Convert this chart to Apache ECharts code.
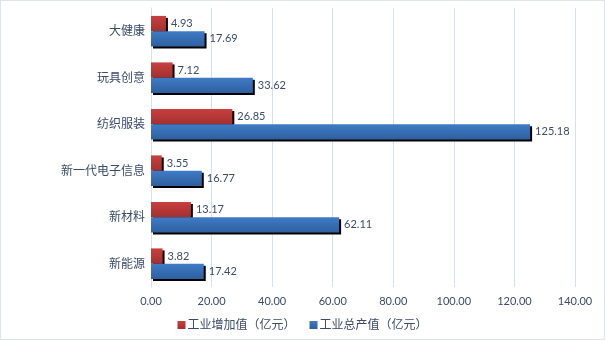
<!DOCTYPE html>
<html>
<head>
<meta charset="utf-8">
<script src="https://cdn.jsdelivr.net/npm/echarts@6/dist/echarts.min.js"></script>
<style>
  html, body { margin: 0; padding: 0; background: #fff; }
  #chart { width: 603px; height: 338px; border: 1px solid #dbe4ef; }
</style>
</head>
<body>
<div id="chart"></div>
<script>
// Industry categories, listed top to bottom
const categories = ['大健康', '玩具创意', '纺织服装', '新一代电子信息', '新材料', '新能源'];
// Industrial added value (100 million yuan)
const addedValue = [4.93, 7.12, 26.85, 3.55, 13.17, 3.82];
// Gross industrial output (100 million yuan)
const grossOutput = [17.69, 33.62, 125.18, 16.77, 62.11, 17.42];
const seriesNames = ['工业增加值（亿元）', '工业总产值（亿元）'];
const xTicks = { min: 0, max: 140, interval: 20 };

const textColor = '#3b4a6b';
const fontFamily = 'Lato, "Noto Sans CJK SC", sans-serif';

function grad(top, bottom) {
  return new echarts.graphic.LinearGradient(0, 0, 0, 1, [
    { offset: 0, color: top },
    { offset: 1, color: bottom }
  ]);
}

const barStyle = (c1, c2) => ({
  color: grad(c1, c2),
  shadowColor: '#000',
  shadowBlur: 0,
  shadowOffsetX: 2,
  shadowOffsetY: 2
});

const chart = echarts.init(document.getElementById('chart'), null, { renderer: 'canvas' });
chart.setOption({
  animation: false,
  textStyle: { fontFamily },
  grid: { left: 150, right: 29, top: 7, bottom: 52, containLabel: false },
  legend: {
    bottom: 3,
    left: 'center',
    icon: 'rect',
    itemWidth: 8,
    itemHeight: 8,
    itemGap: 14,
    textStyle: { color: textColor, fontSize: 12, fontFamily, padding: [0, 0, 0, -3] },
    data: seriesNames
  },
  xAxis: {
    type: 'value',
    min: xTicks.min,
    max: xTicks.max,
    interval: xTicks.interval,
    axisLine: { show: false },
    axisTick: { show: false },
    axisLabel: {
      color: textColor, fontSize: 11, margin: 9,
      formatter: v => v.toFixed(2)
    },
    splitLine: { lineStyle: { color: '#d5e1ef', width: 1 } }
  },
  yAxis: {
    type: 'category',
    inverse: true,
    data: categories,
    axisLine: { lineStyle: { color: '#d5e1ef' } },
    axisTick: { show: false },
    axisLabel: { color: textColor, fontSize: 12, margin: 6 }
  },
  series: [
    {
      name: seriesNames[0],
      type: 'bar',
      data: addedValue,
      barGap: '0%',
      barCategoryGap: '34%',
      itemStyle: barStyle('#c8403f', '#a3302f'),
      label: {
        show: true, position: 'right', distance: 5,
        color: textColor, fontSize: 11,
        formatter: p => p.value.toFixed(2)
      }
    },
    {
      name: seriesNames[1],
      type: 'bar',
      data: grossOutput,
      barGap: '0%',
      barCategoryGap: '34%',
      itemStyle: barStyle('#3f7bc6', '#2e609f'),
      label: {
        show: true, position: 'right', distance: 5,
        color: textColor, fontSize: 11,
        formatter: p => p.value.toFixed(2)
      }
    }
  ]
});
</script>
</body>
</html>
